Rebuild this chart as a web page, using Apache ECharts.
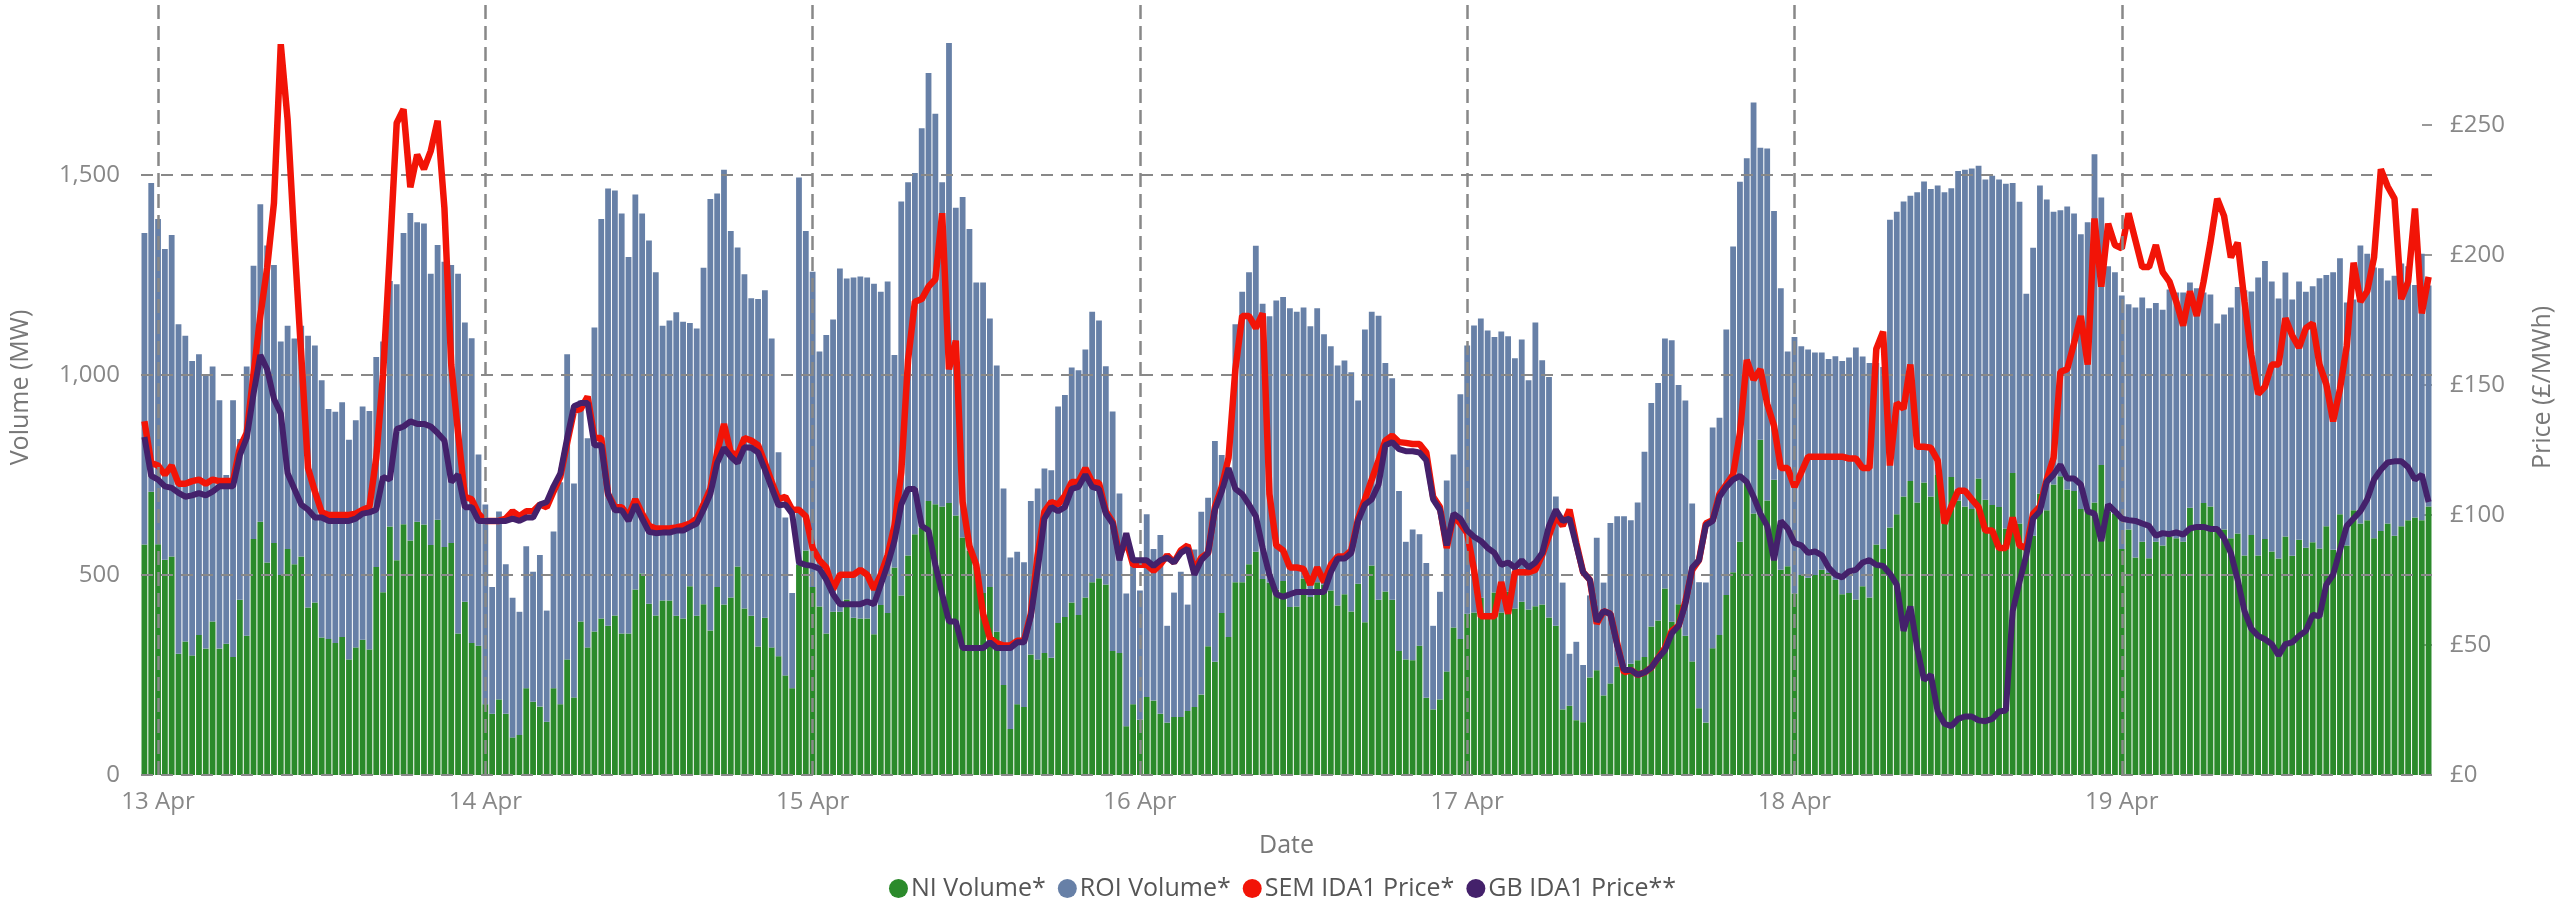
<!DOCTYPE html>
<html>
<head>
<meta charset="utf-8">
<script src="https://cdn.jsdelivr.net/npm/echarts@6/dist/echarts.min.js"></script>
<style>html,body{margin:0;padding:0;background:#fff}#c{width:2565px;height:900px}</style>
</head>
<body>
<div id="c"></div>
<script>
// Half-hourly slots from 12 Apr 23:00 to 19 Apr 22:30 (local), 336 slots
const dayNames = ['12 Apr','13 Apr','14 Apr','15 Apr','16 Apr','17 Apr','18 Apr','19 Apr'];
const tickLabels = ['13 Apr','14 Apr','15 Apr','16 Apr','17 Apr','18 Apr','19 Apr'];
const leftTicks = [0, 500, 1000, 1500];
const rightTicks = [0, 50, 100, 150, 200, 250];

const niVolume = [
576,708,577,538,546,303,334,299,350,316,384,316,328,295,438,348,590,633,531,580,500,565,527,546,419,431,344,340,330,345,289,319,338,314,520,457,621,537,627,586,633,626,575,638,570,580,354,433,
330,323,177,153,189,153,94,100,217,183,171,133,217,177,289,194,384,319,359,391,373,399,354,354,464,504,428,399,436,436,398,391,472,398,427,361,470,426,444,521,416,398,321,393,319,297,249,217,
525,561,470,421,354,408,408,439,393,391,391,352,425,405,519,449,549,602,619,685,677,671,680,649,594,561,521,455,470,358,225,115,177,170,301,289,305,293,380,395,431,400,444,482,492,476,310,305,
122,177,138,195,186,153,131,145,145,160,170,201,322,283,405,345,482,482,527,558,490,481,464,485,420,421,491,445,482,476,461,424,452,409,478,382,524,438,459,438,310,289,287,323,193,164,189,259,
369,340,403,406,443,399,456,406,458,416,433,414,422,426,394,373,164,173,137,132,244,262,199,229,271,271,278,287,295,371,386,466,383,427,348,284,167,131,317,350,450,507,583,732,654,838,686,738,
513,522,454,500,493,500,513,505,488,452,455,439,472,444,576,565,619,652,696,735,681,731,696,750,655,745,686,671,665,741,688,675,670,616,755,629,565,598,704,662,726,747,714,710,665,659,681,775,
659,653,565,614,544,583,542,583,574,596,592,583,668,616,680,671,610,614,592,604,549,600,549,590,559,541,596,548,588,568,582,566,622,563,652,574,662,629,637,592,610,629,598,622,637,644,637,671
];
const roiVolume = [
779,772,813,777,804,824,764,736,702,684,637,621,422,642,402,673,683,794,793,695,584,558,564,577,679,643,643,575,578,587,549,568,583,596,525,627,614,690,728,819,749,753,678,687,713,695,899,698,
762,478,499,317,470,374,349,308,355,325,379,278,392,555,763,535,552,523,760,999,1093,1062,1050,941,987,900,908,858,687,700,759,742,658,718,841,1079,984,1087,916,798,836,794,869,819,772,510,395,238,
969,799,788,638,746,731,858,802,851,855,853,876,783,829,531,985,933,903,998,1070,976,811,1150,769,851,804,710,776,671,666,491,429,381,362,384,427,461,469,541,555,588,612,620,676,644,546,599,399,
332,360,323,457,379,447,242,311,363,266,394,457,371,552,395,415,645,726,730,765,688,666,722,710,747,737,678,677,685,626,611,600,584,598,458,732,634,710,571,554,400,294,327,279,337,209,269,477,
432,612,671,718,698,712,639,703,639,626,656,573,709,611,601,323,317,130,196,143,205,331,282,401,376,376,359,394,513,559,594,625,704,548,588,395,315,350,552,543,664,814,900,810,1027,730,880,672,
704,537,641,572,571,556,543,535,559,583,589,630,574,586,454,455,769,756,738,713,776,753,769,724,802,722,824,842,851,782,801,823,819,862,725,804,638,720,770,777,682,665,707,694,687,723,871,669,
613,604,634,563,625,611,625,597,589,618,614,623,563,601,526,530,519,537,577,616,663,609,695,695,675,650,660,641,646,640,640,676,628,694,640,607,527,695,666,677,657,607,650,657,635,581,666,553
];
const semPrice = [
136,120,119,115.5,119,112,112,113,113.6,112,113.6,113,113,113,126,131.5,154,176.5,195,220,281,252,205,161.5,118,109,101,100,100,100,100,100.5,102,103,122,154,201,250.7,256,226,238.5,233,240,251.6,218,157.8,131.5,107,
106,100.5,97.7,97.7,97.7,98.6,101.4,99.5,101.4,101.4,104,103,109,114.6,127.7,140,140.8,145.5,129.6,129.6,108,103,103,99.5,106,100.5,95.8,94.8,94.8,94.8,95.2,95.8,96.7,98.6,104,110,124,135,124,123,129.6,128.6,126.8,120,112.7,106,107,102,
102,99.5,87.3,82.6,79.8,71.4,77,77,77,78.9,77,71.4,77,84.5,95.8,116.4,159.6,182,183,187.8,190.6,216,156,167,105,88,80.8,62,52.6,50.7,49.8,49.8,51.6,51.6,62,84.5,101.4,105,104,107.4,112.7,112.7,118,112.7,112.3,101.4,97.3,84.5,
90,80.8,80.8,80.8,78.5,81,84.5,81.7,86.4,88.3,78.9,83.6,85.4,103,110.8,122,156,176.5,176.5,171.8,177.5,108,88.3,86.4,79.8,79.8,79.2,73.2,79.8,74.2,80.8,84,84,86.4,98.6,106,113.6,121,128.6,130.5,128,127.7,127.3,127.3,124,107,103,87.3,
99.5,96.7,93,78.9,61,61,61,74.2,62,78,78,78,78.9,84.5,92,99.5,95.8,102,89.2,78,75,58.2,63,62,50.7,39.4,40.4,38.5,39.4,41.3,45,48.8,55.4,57.3,66.7,78.9,82.6,96.7,98,108,111.7,115.5,131.5,159.6,152,156,142.7,134.3,
118,118,110.8,116.4,122.4,122.4,122.4,122.4,122.4,122.4,121.7,121.7,118,118,163.8,170.5,119,143,140.8,157.8,126.2,126.2,125.8,121,96.7,103.3,109.3,109.3,106,103,94,94,87.3,87.3,99,88.3,87.3,100.5,103.3,113.6,122,155,156,166,176.5,157.8,214,187.8,
212,203.8,202.5,216,205.6,195.3,195.3,203.8,193.4,189.7,182,172.8,186,176.5,189.7,204.7,221.6,215,199,204.7,182,161.5,146.5,149.3,157.8,157.8,175.6,169,164.3,171.8,173.7,157.8,150.2,136,148.4,165,197,182,186,199,232.9,226.3,221.6,183,189.7,217.8,177.5,191.5
];
const gbPrice = [
130,115,113.6,111,110.4,108.5,107,107.5,108.4,107.5,109,111,111,111,123,129.6,146.5,161.5,156,144.6,139,116,110,104,102,99,99,97.7,97.7,97.7,97.7,98.6,100.5,101,102,114.6,113.6,133,134,136,135,135,134,131.5,128.6,112.7,115.5,103,
103,97.7,97.7,97.7,97.7,97.7,98.6,97.7,99,99,104,105,111,116,129.6,141.8,143,143,126.8,126.8,108,101.8,101.8,97.7,104,98.6,93.5,93,93.2,93.2,94,94,95.4,96.7,102,108,120,125.8,122.4,120,126,125.8,124,117.4,110.4,103.7,104,100.5,
81.7,80.8,80.4,79.3,75.1,69.5,65.7,65.7,65.7,65.7,66.7,65.7,73.2,80.8,90,104,110,110,95.8,94,80.8,69.5,59,59,48.8,48.8,48.8,48.8,51,48.8,48.8,48.8,51,51,61,78.9,98.6,103,101.4,103,110,110.8,115.5,110.8,110,100.5,96.7,82.6,
93,82.6,82.6,82.6,80.4,82.6,83.6,81.7,85.4,87,77,82.6,85.4,102,109,118,110,108,104,99.5,87.3,77,69.5,68.5,69.5,70.4,70.4,70.4,70.4,70.4,78,83.2,83.2,85.4,97.7,104,106,111.7,126.8,128,125.3,124.5,124.5,124,121,106,102,88.3,
100.5,98.6,94,91.6,90,87.3,85.4,80.8,81.7,79.8,82.6,79.8,81.7,85.4,95.8,102,97.7,98.6,88.3,78,75,59,63,62,49.8,40.4,40.4,38.5,39.4,41.3,45,48,54.5,57.3,65.7,79.8,82.6,96,97.7,107,110.8,113.6,115,112.7,107,100.5,95.8,82.6,
97.7,94.8,89.2,88.3,85.4,86,84.5,79.8,77,76,78.3,78.9,81.7,82.6,80.8,80.4,77.4,73.2,55.4,64.8,48.8,36.6,38.5,24.4,19.7,18.8,21.6,22.5,22.5,21,20.7,21.6,24.4,24.8,63,74.2,84.5,98.6,101.4,112.7,115.5,119.3,114,114,111.7,101.4,100.5,90,
104,101.4,98.6,98,97.7,96.7,95.8,92,93,92.6,93.3,92.4,94.8,95.4,95.4,94.6,94.6,91,85.4,75,63,56.3,53.5,52.2,50.3,46,50.3,51,53.5,55.4,61.6,61,73.2,77,86.4,95.8,98.6,101.4,106,113.6,117.4,120.2,120.6,120.6,118.3,113.6,115.5,105
];

// category labels (time slots)
const categories = [];
for (let i = 0; i < niVolume.length; i++) {
  const m = 23 * 60 + i * 30;
  const d = Math.floor(m / 1440), t = m % 1440;
  const hh = String(Math.floor(t / 60)).padStart(2, '0'), mm = String(t % 60).padStart(2, '0');
  categories.push(dayNames[d] + ' ' + hh + ':' + mm);
}
const dayStarts = categories.filter(c => c.endsWith(' 00:00'));

const FONT = 'Open Sans';
const chart = echarts.init(document.getElementById('c'), null, {renderer: 'canvas'});
chart.setOption({
  animation: false,
  textStyle: {fontFamily: FONT},
  grid: {left: 139, right: 133, top: 0, bottom: 125, containLabel: false},
  legend: {
    top: 871, left: 'center', icon: 'circle', itemWidth: 19, itemHeight: 19, itemGap: 12,
    textStyle: {fontFamily: FONT, fontSize: 25, color: '#555', padding: [0, 0, 0, -2]},
    data: ['NI Volume*', 'ROI Volume*', 'SEM IDA1 Price*', 'GB IDA1 Price**']
  },
  xAxis: {
    type: 'category', data: categories, boundaryGap: true,
    name: 'Date', nameLocation: 'middle', nameGap: 58,
    nameTextStyle: {fontFamily: FONT, fontSize: 25, color: '#777'},
    axisLine: {show: false}, axisTick: {show: false},
    axisLabel: {
      interval: (idx, val) => val.endsWith(' 00:00'),
      formatter: v => { const l = v.split(' ').slice(0, 2).join(' '); return tickLabels.includes(l) ? l : ''; },
      fontFamily: FONT, fontSize: 24, color: '#888', margin: 15
    },
    splitLine: {show: false}
  },
  yAxis: [{
    type: 'value', min: 0, max: 1937.5, interval: 500, z: 3,
    name: 'Volume (MW)', nameLocation: 'middle', nameGap: 108, nameRotate: 90,
    nameTextStyle: {fontFamily: FONT, fontSize: 25, color: '#777'},
    axisLine: {show: false}, axisTick: {show: false},
    axisLabel: {
      formatter: v => leftTicks.includes(v) ? v.toLocaleString('en-GB') : '',
      fontFamily: FONT, fontSize: 24, color: '#888', margin: 21
    },
    splitLine: {show: true, showMaxLine: false, lineStyle: {color: '#888', width: 2, type: [12, 8]}}
  }, {
    type: 'value', min: 0, max: 298, interval: 50, position: 'right',
    name: 'Price (£/MWh)', nameLocation: 'middle', nameGap: 98, nameRotate: 90,
    nameTextStyle: {fontFamily: FONT, fontSize: 25, color: '#777'},
    axisLine: {show: false},
    axisTick: {show: true, inside: true, length: 10, customValues: rightTicks, lineStyle: {color: '#999', width: 2}},
    axisLabel: {
      customValues: rightTicks,
      formatter: v => rightTicks.includes(v) ? '£' + v : '',
      fontFamily: FONT, fontSize: 24, color: '#888', margin: 18
    },
    splitLine: {show: false}
  }],
  series: [{
    name: 'NI Volume*', type: 'bar', stack: 'vol', data: niVolume, z: 2,
    barCategoryGap: '15%', itemStyle: {color: '#2b8a2b'}
  }, {
    name: 'ROI Volume*', type: 'bar', stack: 'vol', data: roiVolume, z: 2,
    barCategoryGap: '15%', itemStyle: {color: '#6780a7'}
  }, {
    name: 'dayLines', type: 'line', data: [], z: 3, silent: true,
    markLine: {
      silent: true, symbol: ['none', 'none'], label: {show: false},
      lineStyle: {color: '#888', width: 2.5, type: [14, 7]},
      data: dayStarts.map(c => ({xAxis: c}))
    }
  }, {
    name: 'SEM IDA1 Price*', type: 'line', yAxisIndex: 1, data: semPrice, z: 4,
    showSymbol: false, symbol: 'none', lineStyle: {color: '#f21407', width: 6.5}, itemStyle: {color: '#f21407'}
  }, {
    name: 'GB IDA1 Price**', type: 'line', yAxisIndex: 1, data: gbPrice, z: 5,
    showSymbol: false, symbol: 'none', lineStyle: {color: '#44216b', width: 6}, itemStyle: {color: '#44216b'}
  }]
});
</script>
</body>
</html>
